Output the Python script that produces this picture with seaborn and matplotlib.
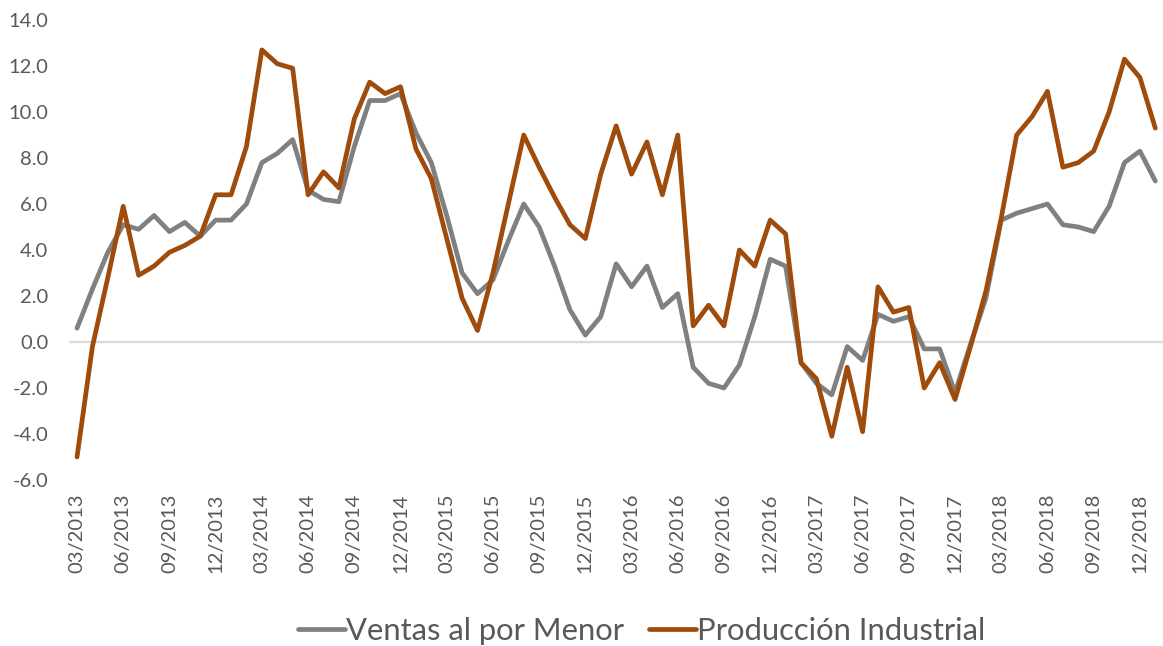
import numpy as np
import pandas as pd
import matplotlib
matplotlib.use("Agg")
import matplotlib.pyplot as plt
import seaborn as sns

# --- data -------------------------------------------------------------
months = pd.period_range("2013-03", "2019-01", freq="M").strftime("%m/%Y").tolist()

ventas_menor = [
    0.6, 2.3, 3.9, 5.1, 4.9, 5.5, 4.8, 5.2, 4.6, 5.3,
    5.3, 6.0, 7.8, 8.2, 8.8, 6.6, 6.2, 6.1, 8.5, 10.5,
    10.5, 10.8, 9.1, 7.8, 5.5, 3.0, 2.1, 2.7, 4.4, 6.0,
    5.0, 3.3, 1.4, 0.3, 1.1, 3.4, 2.4, 3.3, 1.5, 2.1,
    -1.1, -1.8, -2.0, -1.0, 1.1, 3.6, 3.3, -0.9, -1.8, -2.3,
    -0.2, -0.8, 1.2, 0.9, 1.1, -0.3, -0.3, -2.2, -0.1, 1.9,
    5.3, 5.6, 5.8, 6.0, 5.1, 5.0, 4.8, 5.9, 7.8, 8.3,
    7.0,
]

produccion_industrial = [
    -5.0, -0.2, 2.8, 5.9, 2.9, 3.3, 3.9, 4.2, 4.6, 6.4,
    6.4, 8.5, 12.7, 12.1, 11.9, 6.4, 7.4, 6.7, 9.7, 11.3,
    10.8, 11.1, 8.4, 7.1, 4.5, 1.9, 0.5, 3.0, 6.0, 9.0,
    7.6, 6.3, 5.1, 4.5, 7.3, 9.4, 7.3, 8.7, 6.4, 9.0,
    0.7, 1.6, 0.7, 4.0, 3.3, 5.3, 4.7, -0.9, -1.6, -4.1,
    -1.1, -3.9, 2.4, 1.3, 1.5, -2.0, -0.9, -2.5, -0.2, 2.2,
    5.4, 9.0, 9.8, 10.9, 7.6, 7.8, 8.3, 10.0, 12.3, 11.5,
    9.3,
]

series_names = ["Ventas al por Menor", "Producción Industrial"]
y_ticks = [-6.0, -4.0, -2.0, 0.0, 2.0, 4.0, 6.0, 8.0, 10.0, 12.0, 14.0]

# --- styling ------------------------------------------------------------
sns.set_theme(style="white")
plt.rcParams["font.family"] = ["Lato", "DejaVu Sans"]

colors = {series_names[0]: "#808080", series_names[1]: "#9E4B0C"}
text_color = "#595959"

n = len(months)
df = pd.DataFrame({
    "idx": list(range(n)) * 2,
    "mes": months * 2,
    "valor": ventas_menor + produccion_industrial,
    "serie": [series_names[0]] * n + [series_names[1]] * n,
})

fig = plt.figure(figsize=(11.63, 6.46), dpi=100)
ax = fig.add_axes([0.0596, 0.257, 0.9404, 0.712])

ax.axhline(0, color="#d9d9d9", lw=1.6, zorder=0)

sns.lineplot(data=df, x="idx", y="valor", hue="serie", palette=colors,
             hue_order=series_names, linewidth=3.4, legend=False, ax=ax,
             sort=False)

ax.set_xlim(-0.5, n - 0.5)
ax.set_ylim(-6, 14)
ax.set_yticks(y_ticks)
ax.set_yticklabels([f"{v:.1f}" for v in y_ticks])
tick_pos = list(range(0, n, 3))
ax.set_xticks(tick_pos)
ax.set_xticklabels([months[i] for i in tick_pos], rotation=90)
ax.tick_params(axis="x", length=0, pad=10, labelsize=14.5, labelcolor=text_color)
ax.tick_params(axis="y", length=0, pad=15, labelsize=14.5, labelcolor=text_color)
ax.set_xlabel("")
ax.set_ylabel("")
for s in ax.spines.values():
    s.set_visible(False)
ax.grid(False)

handles = ax.get_lines()[1:3]
leg = fig.legend(handles, series_names, loc="center",
                 bbox_to_anchor=(642 / 1163, 1 - 631 / 646), ncol=2,
                 frameon=False, fontsize=22.3, handlelength=1.5,
                 handletextpad=0.05, columnspacing=0.8)
for t in leg.get_texts():
    t.set_color(text_color)

fig.savefig("out.png", dpi=100)
